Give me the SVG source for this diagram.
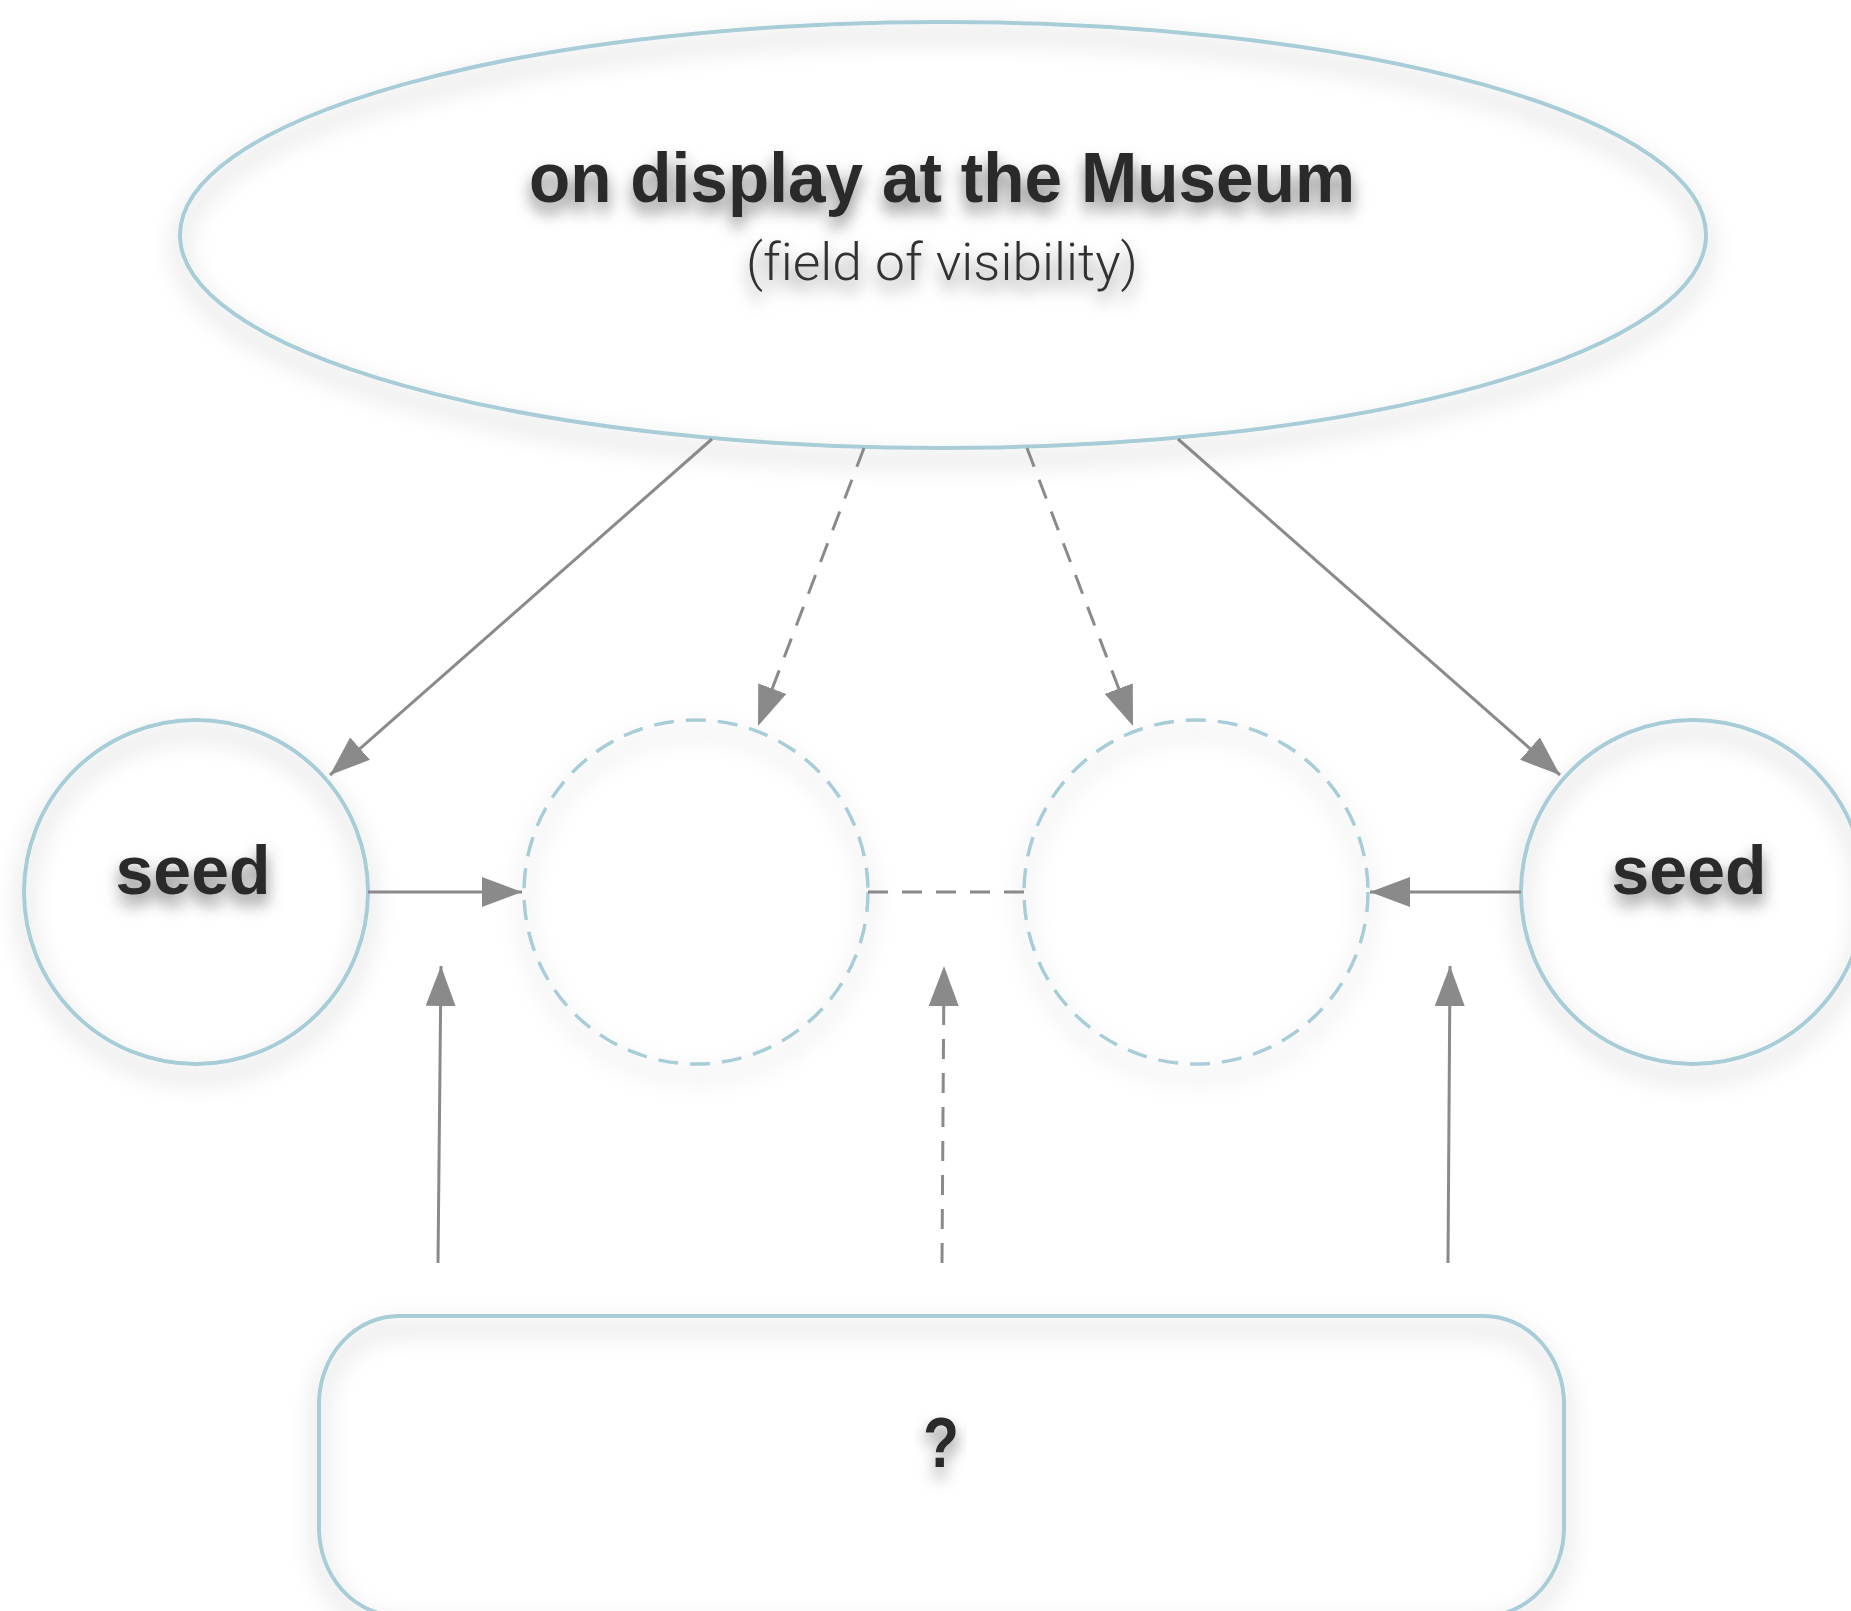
<svg xmlns="http://www.w3.org/2000/svg" width="1851" height="1611" viewBox="0 0 1851 1611">
  <style>
    .shape { fill: none; stroke: #a8cdd8; stroke-width: 4; filter: url(#shapeShadow); }
    .dashed-shape { stroke-dasharray: 20 12; stroke-width: 3.5; }
    .label { font-family: "Liberation Sans", Arial, sans-serif; fill: #2a2a2a; text-anchor: middle; filter: url(#textShadow); }
    .bold { font-weight: bold; }
    .light { font-family: Roboto, "Liberation Sans", Arial, sans-serif; font-weight: 300; fill: #333333; font-variant-ligatures: none; font-feature-settings: "liga" 0; }
    .link { fill: none; stroke: #8a8a8a; stroke-width: 3; }
    .dash { stroke-dasharray: 20 14; }
    .arrow { marker-end: url(#head); }
  </style>
  <defs>
    <filter id="shapeShadow" x="-20%" y="-20%" width="140%" height="150%">
      <feDropShadow dx="0" dy="12" stdDeviation="12" flood-color="#000" flood-opacity="0.36"/>
    </filter>
    <filter id="textShadow" x="-20%" y="-50%" width="140%" height="220%">
      <feDropShadow dx="0" dy="10" stdDeviation="8" flood-color="#000" flood-opacity="0.5"/>
    </filter>
    <marker id="head" markerUnits="userSpaceOnUse" markerWidth="40" markerHeight="30" refX="40" refY="15" orient="auto">
      <path d="M0,0 L40,15 L0,30 z" fill="#8a8a8a"/>
    </marker>
  </defs>

  <rect width="1851" height="1611" fill="#ffffff"/>

  <!-- top field -->
  <g id="museum">
    <ellipse class="shape" cx="943" cy="235" rx="763" ry="213"/>
    <text class="label bold" x="942" y="202" font-size="70" textLength="826" lengthAdjust="spacingAndGlyphs">on display at the Museum</text>
    <text class="label light" x="942" y="280" font-size="52" textLength="392" lengthAdjust="spacingAndGlyphs">(field of visibility)</text>
  </g>

  <!-- seeds -->
  <g id="seed-left">
    <circle class="shape" cx="196" cy="892" r="172"/>
    <text class="label bold" x="193" y="894" font-size="68">seed</text>
  </g>
  <g id="seed-right">
    <circle class="shape" cx="1693" cy="892" r="172"/>
    <text class="label bold" x="1689" y="894" font-size="68">seed</text>
  </g>

  <!-- open slots -->
  <g id="slot-left">
    <circle class="shape dashed-shape" cx="696" cy="892" r="172"/>
  </g>
  <g id="slot-right">
    <circle class="shape dashed-shape" cx="1196" cy="892" r="172"/>
  </g>

  <!-- unknown base -->
  <g id="unknown">
    <rect class="shape" x="319" y="1316" width="1245" height="300" rx="80" ry="88"/>
    <text class="label bold" x="941" y="1467" font-size="70" textLength="36" lengthAdjust="spacingAndGlyphs">?</text>
  </g>

  <g id="connectors">
    <line class="link arrow" x1="712" y1="439" x2="330" y2="775"/>
    <line class="link dash arrow" x1="864" y1="448" x2="758" y2="726"/>
    <line class="link dash arrow" x1="1027" y1="448" x2="1133" y2="726"/>
    <line class="link arrow" x1="1178" y1="439" x2="1560" y2="775"/>
    <line class="link arrow" x1="368" y1="892" x2="522" y2="892"/>
    <line class="link arrow" x1="1521" y1="892" x2="1370" y2="892"/>
    <line class="link dash" x1="868" y1="892" x2="1024" y2="892"/>
    <line class="link arrow" x1="438" y1="1263" x2="441" y2="966"/>
    <line class="link dash arrow" x1="942" y1="1263" x2="944" y2="966"/>
    <line class="link arrow" x1="1448" y1="1263" x2="1450" y2="966"/>
  </g>
</svg>
